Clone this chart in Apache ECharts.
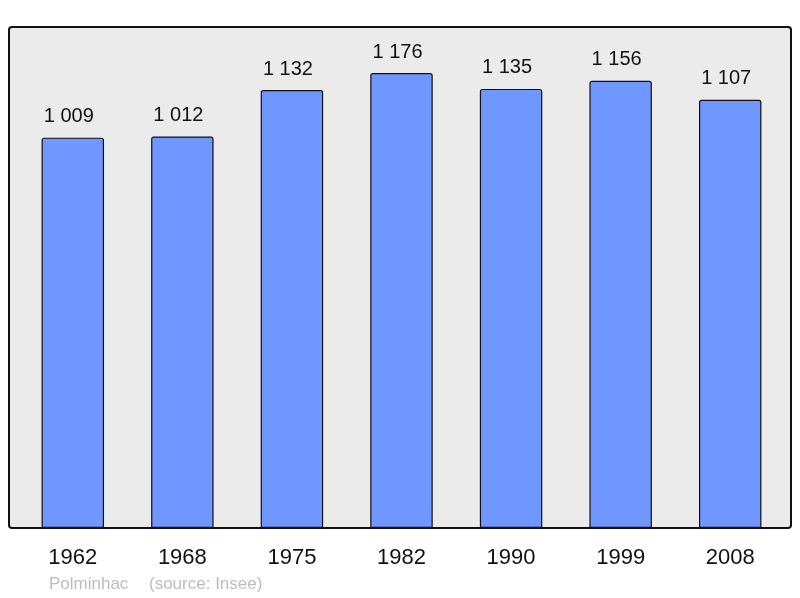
<!DOCTYPE html>
<html><head><meta charset="utf-8">
<script src="https://cdn.jsdelivr.net/npm/echarts@6/dist/echarts.min.js"></script>
<style>html,body{margin:0;padding:0;background:#fff}#c{width:800px;height:598px}</style>
</head><body><div id="c"></div>
<script>
const years = ['1962','1968','1975','1982','1990','1999','2008'];
const population = [1009, 1012, 1132, 1176, 1135, 1156, 1107];
const footerName = 'Polminhac';
const footerSource = '(source: Insee)';

const fmt = v => String(v).replace(/\B(?=(\d{3})+(?!\d))/g, ' ');
const chart = echarts.init(document.getElementById('c'), null, {renderer:'canvas'});
chart.setOption({
  animation:false,
  backgroundColor:'#fff',
  textStyle:{fontFamily:'Liberation Sans, Arial, sans-serif'},
  graphic:[
    {type:'rect', z:0, shape:{x:9, y:27, width:782, height:501, r:3},
     style:{fill:'#ebebeb', stroke:'#111', lineWidth:2}},
    {type:'text', z:10, left:49, top:576, style:{text:footerName, fill:'#bdbdbd', font:'17px Liberation Sans, Arial, sans-serif'}},
    {type:'text', z:10, left:149, top:576, style:{text:footerSource, fill:'#bdbdbd', font:'17px Liberation Sans, Arial, sans-serif'}}
  ],
  grid:{left:18, right:15, top:27, bottom:70, containLabel:false},
  xAxis:{type:'category', data:years, axisLine:{show:false}, axisTick:{show:false},
    axisLabel:{color:'#111', fontSize:22, margin:19, fontFamily:'Liberation Sans, Arial, sans-serif'}},
  yAxis:{type:'value', min:0, max:1295, show:false, splitLine:{show:false}},
  series:[{type:'bar', data:population, barWidth:'57%', z:2,
    itemStyle:{color:'#7097ff', borderColor:'#111', borderWidth:1.2, borderRadius:[2,2,0,0]},
    label:{show:true, position:'top', distance:11, offset:[-4,0], color:'#111', fontSize:20,
      fontFamily:'Liberation Sans, Arial, sans-serif', formatter:p=>fmt(p.value)}
  }]
});
</script></body></html>
